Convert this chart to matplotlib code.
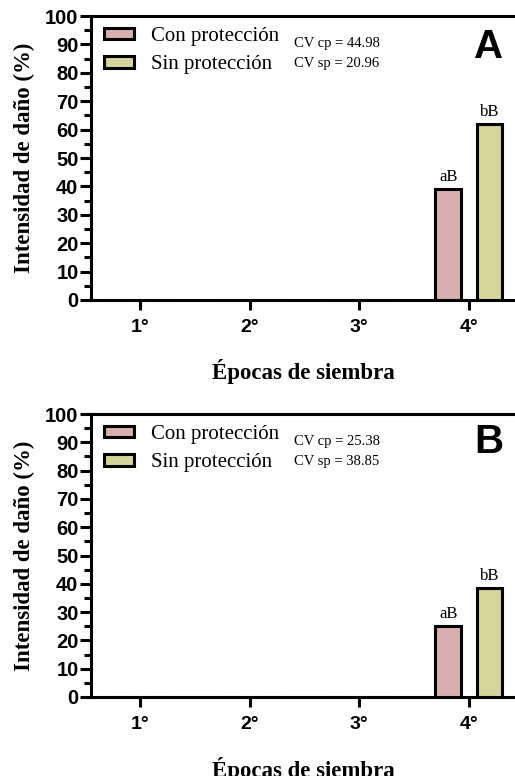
import matplotlib
matplotlib.use("Agg")
from matplotlib import pyplot as plt
import numpy as np

# datos
epocas = ["1°", "2°", "3°", "4°"]
con_A = [0, 0, 0, 39]
sin_A = [0, 0, 0, 62]
con_B = [0, 0, 0, 25]
sin_B = [0, 0, 0, 38.5]
letras_con = ["", "", "", "aB"]
letras_sin = ["", "", "", "bB"]
cv_A = ("CV cp = 44.98", "CV sp = 20.96")
cv_B = ("CV cp = 25.38", "CV sp = 38.85")
paneles = ["A", "B"]

c_con = "#d9aeae"
c_sin = "#d6d49b"
serif = "Liberation Serif"
sans = "Liberation Sans"

fig = plt.figure(figsize=(5.15, 7.76), dpi=100)
W, H = 515, 776

def panel(rect, con, sin, cv, letra, cv_y, letra_y, xlab_pad):
    ax = fig.add_axes(rect)
    x = np.arange(1, len(epocas) + 1)
    b1 = ax.bar(x - 0.19, con, width=0.23, color=c_con, edgecolor="black", linewidth=2.2,
                label="Con protección", zorder=3)
    b2 = ax.bar(x + 0.19, sin, width=0.23, color=c_sin, edgecolor="black", linewidth=2.2,
                label="Sin protección", zorder=3)
    for xs, vals, tt in [(x - 0.19, con, letras_con), (x + 0.19, sin, letras_sin)]:
        for xi, v, t in zip(xs, vals, tt):
            if t:
                ax.annotate(t, (xi, v), xytext=(0, 3), textcoords="offset points",
                            ha="center", va="bottom", fontsize=12, family=serif)
    ax.set_xlim(0.555, 4.42)
    ax.set_ylim(0, 100)
    ax.set_xticks(x)
    ax.set_xticklabels(epocas, fontsize=14, fontweight="bold", family=sans)
    ax.set_yticks(np.arange(0, 101, 10))
    ax.set_yticks(np.arange(5, 100, 10), minor=True)
    for lb in ax.get_yticklabels():
        lb.set_fontsize(14.5)
        lb.set_fontweight("bold")
        lb.set_family(sans)
    ax.tick_params(axis="y", which="major", length=8, width=2.2, pad=1)
    ax.tick_params(axis="y", which="minor", length=5, width=2.2)
    ax.tick_params(axis="x", which="major", length=7, width=2.2, pad=7)
    ax.spines["right"].set_visible(False)
    for s in ["left", "bottom", "top"]:
        ax.spines[s].set_linewidth(2.2)
    ax.set_ylabel("Intensidad de daño (%)", fontsize=16.5, fontweight="bold", family=serif,
                  labelpad=7)
    ax.set_xlabel("Épocas de siembra", fontsize=16.5, fontweight="bold", family=serif,
                  labelpad=xlab_pad)
    ax.legend(handles=[b1, b2], loc="upper left",
              bbox_to_anchor=(0.03, 1 - 11 / (rect[3] * H)),
              frameon=False, borderaxespad=0, borderpad=0, handlelength=1.45,
              handleheight=0.45, handletextpad=0.8, labelspacing=0.45,
              prop={"family": serif, "size": 15})
    for t, yy in zip(cv, cv_y):
        ax.text(294 / W, 1 - yy / H, t, transform=fig.transFigure, fontsize=10.5,
                family=serif, va="center", ha="left")
    ax.text(503 / W, 1 - letra_y / H, letra, transform=fig.transFigure,
            fontsize=29, fontweight="bold", family=sans, ha="right", va="center")
    return ax

axA = panel([91 / W, 1 - 300 / H, 1 - 91 / W, 284 / H], con_A, sin_A, cv_A, paneles[0],
            (44, 64), 47, 16)
axB = panel([91 / W, 1 - 697 / H, 1 - 91 / W, 283 / H], con_B, sin_B, cv_B, paneles[1],
            (442, 461), 442, 17)

fig.savefig("out.png", dpi=100)
